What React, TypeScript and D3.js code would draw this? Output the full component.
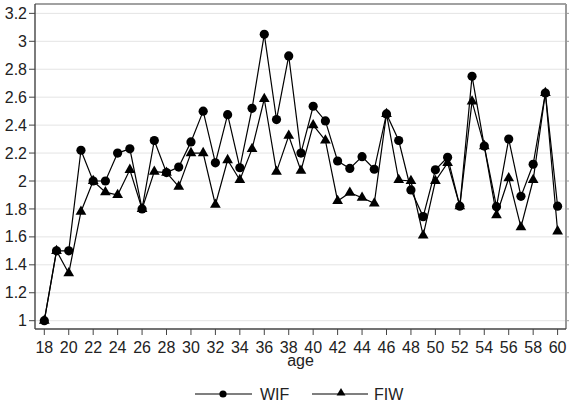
import React from "react";
import * as d3 from "d3";

const ages = d3.range(18, 61);
const wif = [1.0, 1.5, 1.5, 2.22, 2.0, 2.0, 2.2, 2.23, 1.8, 2.29, 2.06, 2.1, 2.28, 2.5, 2.13, 2.475, 2.095, 2.52, 3.05, 2.44, 2.895, 2.2, 2.535, 2.43, 2.143, 2.09, 2.174, 2.084, 2.48, 2.29, 1.936, 1.745, 2.08, 2.17, 1.82, 2.75, 2.25, 1.816, 2.3, 1.89, 2.12, 2.63, 1.82];
const fiw = [1.0, 1.5, 1.34, 1.78, 2.0, 1.92, 1.9, 2.08, 1.8, 2.067, 2.06, 1.96, 2.2, 2.2, 1.83, 2.15, 2.007, 2.23, 2.587, 2.067, 2.324, 2.074, 2.4, 2.29, 1.857, 1.916, 1.88, 1.84, 2.48, 2.007, 2.0, 1.61, 2.0, 2.13, 1.82, 2.57, 2.25, 1.755, 2.02, 1.67, 2.007, 2.63, 1.64];
const yTicks = [1, 1.2, 1.4, 1.6, 1.8, 2, 2.2, 2.4, 2.6, 2.8, 3, 3.2];
const xTicks = d3.range(18, 61, 2);
const seriesNames = ["WIF", "FIW"];

const W = 572, H = 404;
const L = 35, R = 566, T = 4, B = 329;

export default function App() {
  const x = d3.scaleLinear().domain([18, 60]).range([44.3, 557.6]);
  const y = d3.scaleLinear().domain([1, 3]).range([320.7, 41.3]);
  const line = d3.line<number>().x((_, i) => x(ages[i])).y((d) => y(d));
  const tri = d3.symbol().type(d3.symbolTriangle).size(50)();
  const triSmall = d3.symbol().type(d3.symbolTriangle).size(34)();
  const font = "'Liberation Sans', Arial, sans-serif";
  const fs = 16;
  return (
    <svg width={W} height={H} style={{ position: "absolute", left: 0, top: 0 }}>
      <rect x={0} y={0} width={W} height={H} fill="#fff" />
      {yTicks.map((t) => (
        <line key={"g" + t} x1={L} x2={R} y1={y(t)} y2={y(t)} stroke="#e4e4e4" strokeWidth={1} />
      ))}
      <path d={line(fiw) || ""} fill="none" stroke="#000" strokeWidth={1.2} />
      <path d={line(wif) || ""} fill="none" stroke="#000" strokeWidth={1.2} />
      {fiw.map((v, i) => (
        <path key={"f" + i} d={tri || ""} transform={`translate(${x(ages[i])},${y(v)})`} fill="#000" />
      ))}
      {wif.map((v, i) => (
        <circle key={"w" + i} cx={x(ages[i])} cy={y(v)} r={4.6} fill="#000" />
      ))}
      {/* frame */}
      <line x1={L} x2={R} y1={T} y2={T} stroke="#444" strokeWidth={1.2} />
      <line x1={R} x2={R} y1={T} y2={B} stroke="#999" strokeWidth={2} />
      {yTicks.map((t) => (
        <line key={"rt" + t} x1={R} x2={R + 3} y1={y(t)} y2={y(t)} stroke="#999" strokeWidth={1} />
      ))}
      <line x1={L} x2={L} y1={T} y2={B} stroke="#444" strokeWidth={1.4} />
      <line x1={L} x2={R} y1={B} y2={B} stroke="#444" strokeWidth={1.4} />
      {yTicks.map((t) => (
        <g key={"yt" + t}>
          <line x1={L - 6} x2={L} y1={y(t)} y2={y(t)} stroke="#444" strokeWidth={1} />
          <text x={27} y={y(t)} dy="0.35em" textAnchor="end" fontFamily={font} fontSize={fs} fill="#222">
            {String(t)}
          </text>
        </g>
      ))}
      {xTicks.map((t) => (
        <g key={"xt" + t}>
          <line x1={x(t)} x2={x(t)} y1={B} y2={B + 6} stroke="#444" strokeWidth={1} />
          <text x={x(t)} y={353} textAnchor="middle" fontFamily={font} fontSize={fs} fill="#222">
            {t}
          </text>
        </g>
      ))}
      <text x={(L + R) / 2} y={366} textAnchor="middle" fontFamily={font} fontSize={fs} fill="#222">
        age
      </text>
      {/* legend */}
      <line x1={195} x2={252} y1={394} y2={394} stroke="#000" strokeWidth={1.2} />
      <circle cx={223} cy={394} r={3.6} fill="#000" />
      <text x={260} y={400} fontFamily={font} fontSize={fs} fill="#222">{seriesNames[0]}</text>
      <line x1={312} x2={368} y1={394} y2={394} stroke="#000" strokeWidth={1.2} />
      <path d={triSmall || ""} transform="translate(341,393)" fill="#000" />
      <text x={374} y={400} fontFamily={font} fontSize={fs} fill="#222">{seriesNames[1]}</text>
    </svg>
  );
}
